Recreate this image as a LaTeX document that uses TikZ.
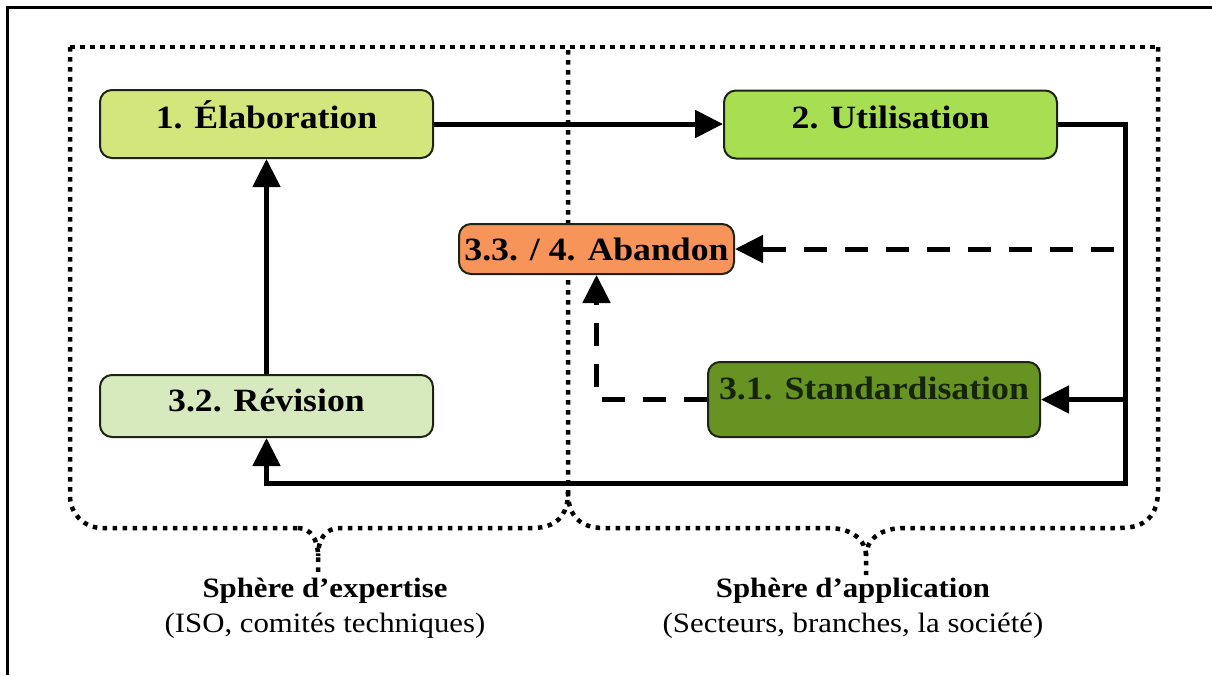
\documentclass[tikz,border=0pt]{standalone}
\usepackage{fontspec}
\setmainfont{Liberation Serif}[FakeStretch=1.1]
\newfontfamily\labfont{Liberation Serif}[FakeStretch=1.1]
\usetikzlibrary{arrows.meta}
\definecolor{elabfill}{HTML}{D3E67B}
\definecolor{utilfill}{HTML}{A8DF52}
\definecolor{abanfill}{HTML}{F7945A}
\definecolor{revifill}{HTML}{D7EABD}
\definecolor{stanfill}{HTML}{679323}
\definecolor{boxborder}{HTML}{1E2414}
\definecolor{stantext}{HTML}{16240A}
\begin{document}
\begin{tikzpicture}[x=1pt,y=-1pt,
  box/.style={draw=boxborder, line width=2pt, rounded corners=12pt, inner sep=0pt,
    font=\fontsize{32.5}{36}\selectfont\bfseries, text=black},
  conn/.style={line width=5pt, line join=miter, -{Triangle[length=28pt,width=27pt]}},
  dconn/.style={conn, dash pattern=on 23pt off 18pt},
  bracepath/.style={line width=4.5pt, dash pattern=on 4.5pt off 5.5pt},
  ttl/.style={font=\labfont\fontsize{28}{30}\selectfont\bfseries, inner sep=0pt, anchor=base},
  sub/.style={font=\labfont\fontsize{28}{30}\selectfont, inner sep=0pt, anchor=base}]
\useasboundingbox (0,0) rectangle (1212,675);
\fill[white] (0,0) rectangle (1212,675);
% outer frame
\draw[line width=3pt] (7,675) -- (7,7) -- (1212,7);

% dotted braces
\draw[bracepath] (70,47) -- (1158,47);
\draw[bracepath, rounded corners=32pt] (70,47) -- (70,528) -- (300,528);
\draw[bracepath] (298,528) .. controls (311,528) and (318,540) .. (318,556) -- (318,575);
\draw[bracepath] (568,50) -- (568,492) .. controls (568,516) and (556,528) .. (532,528) -- (340,528) .. controls (325,528) and (318,540) .. (318,556);
\draw[bracepath] (568,492) .. controls (568,516) and (580,528) .. (604,528) -- (828,528) .. controls (852,528) and (866,540) .. (866,556) -- (866,575);
\draw[bracepath] (1158,47) -- (1158,490) .. controls (1158,515) and (1146,528) .. (1120,528) -- (904,528) .. controls (880,528) and (866,540) .. (866,556);

% boxes
\node[box, fill=elabfill, minimum width=333pt, minimum height=68pt, text height=22pt, text depth=13.6pt] (elab) at (266.5,124) {1. Élaboration};
\node[box, fill=utilfill, minimum width=333pt, minimum height=68pt, text height=22pt, text depth=14.4pt] (util) at (890.5,124.5) {2. Utilisation};
\node[box, fill=abanfill, minimum width=275pt, minimum height=50pt, text height=24pt, text depth=0.6pt] (aban) at (596.5,249) {3.3. / 4. Abandon};
\node[box, fill=revifill, minimum width=333pt, minimum height=62pt, text height=22pt, text depth=10.2pt] (revi) at (266.5,406) {3.2. Révision};
\node[box, fill=stanfill, text=stantext, minimum width=332pt, minimum height=75pt, text height=22pt, text depth=22pt] (stan) at (874,399.5) {3.1. Standardisation};

% connectors
\coordinate (rtop) at (1125,124.5);
\coordinate (rbot) at (1125,483);
\coordinate (lbot) at (266.5,483);
\coordinate (rmid) at (1125,399.5);
\coordinate (rdash) at (1114,249);
\draw[conn] (elab.east) -- (util.west |- elab.east);
\draw[conn] (util.east) -- (rtop) -- (rbot) -- (lbot) -- (revi.south);
\draw[conn] (rmid) -- (stan.east);
\draw[conn] (revi.north) -- (elab.south);
\draw[dconn] (rdash) -- (aban.east);
\draw[dconn] (stan.west) -| (aban.south);

% labels
\node[ttl] (sph1) at (325,597) {Sphère d’expertise};
\node[sub] (sub1) at (325,632) {(ISO, comités techniques)};
\node[ttl] (sph2) at (853,597) {Sphère d’application};
\node[sub] (sub2) at (853,632) {(Secteurs, branches, la société)};
\end{tikzpicture}
\end{document}
